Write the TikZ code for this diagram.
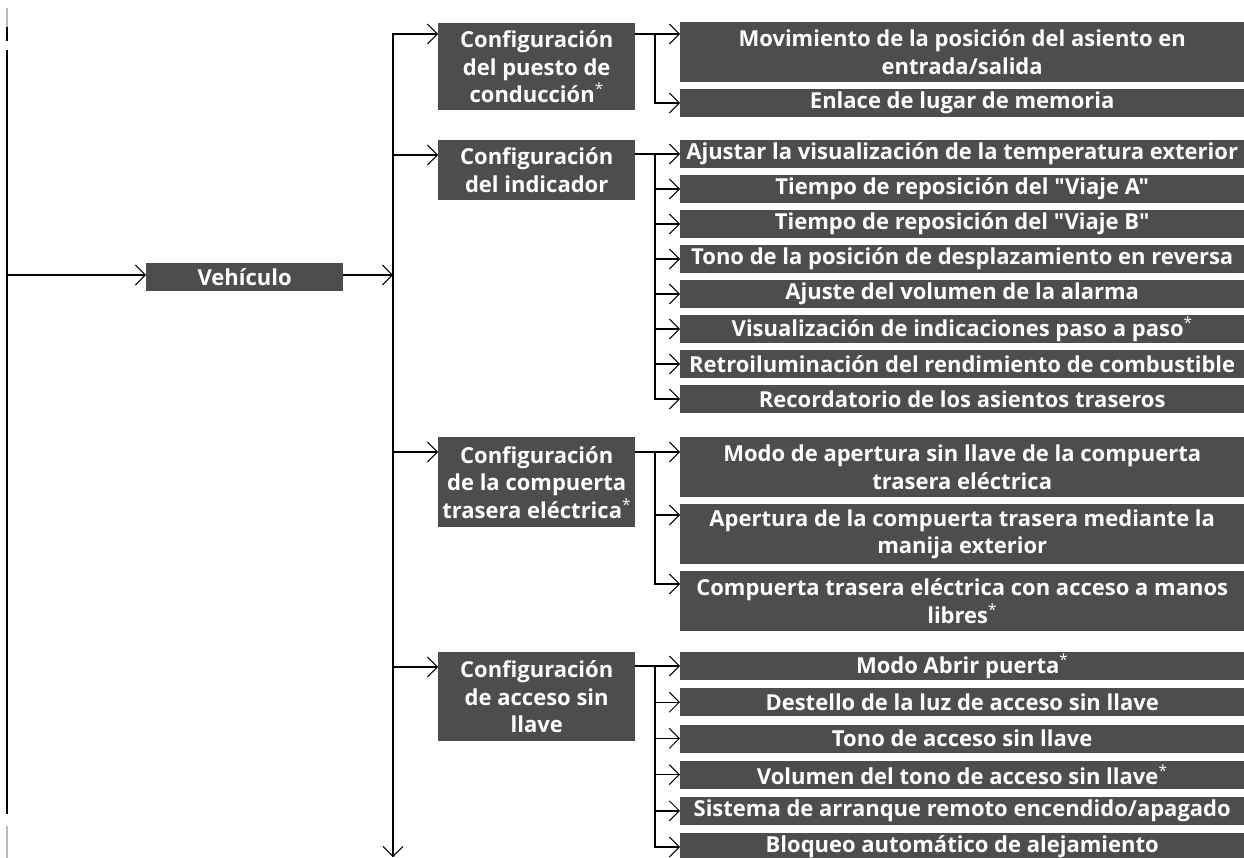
\documentclass[tikz,border=0pt]{standalone}
\usepackage{fontspec}
\setmainfont{Open Sans}[Ligatures=TeXOff]
\usetikzlibrary{arrows.meta}
\definecolor{boxgray}{HTML}{4D4D4D}
\newcommand{\starmk}{\textsuperscript{\mdseries *}}
\tikzset{
  box/.style={fill=boxgray, text=white, font=\bfseries\fontsize{22}{27.5}\selectfont,
    align=center, inner sep=0pt, anchor=north west},
  cfg/.style={box, minimum width=197pt},
  child/.style={box, minimum width=564pt},
  ln/.style={line width=1.4pt, line cap=rect},
  arr/.style={line width=1.4pt, -{Straight Barb[length=10pt,width=20pt,line width=1pt]}},
}
\begin{document}
\begin{tikzpicture}[x=1pt,y=-1pt]
\useasboundingbox (0,0) rectangle (1244,858);
% left border lines
\draw[line width=1.2pt, gray!55] (7,8) -- (7,28);
\draw[ln] (7,28) -- (7,40);
\draw[ln] (7,51) -- (7,813);
\draw[line width=1.2pt, gray!55] (7,826) -- (7,858);
% main nodes
\node[box, minimum width=197pt, minimum height=28pt] (veh) at (146,263) {Vehículo};
\node[cfg, minimum height=87pt] (c1) at (438,23) {Configuración\\del puesto de\\conducción\starmk};
\node[cfg, minimum height=60pt] (c2) at (438,140) {Configuración\\del indicador};
\node[cfg, minimum height=90pt] (c3) at (438,437) {Configuración\\de la compuerta\\trasera eléctrica\starmk};
\node[cfg, minimum height=89pt] (c4) at (438,652) {Configuración\\de acceso sin\\llave};
% left entry
\coordinate (lin) at (7,275);
\draw[arr] (lin) -- (lin -| veh.west);
% trunk
\coordinate (t1) at (393,34);
\coordinate (t2) at (393,155);
\coordinate (t3) at (393,452);
\coordinate (t4) at (393,667);
\coordinate (tv) at (393,275);
\coordinate (tb) at (393,857);
\draw[arr] (veh.east |- tv) -- (tv);
\draw[arr, line cap=rect] (t1) -- (tb);
\foreach \k in {1,2,3,4}{\draw[arr] (t\k) -- (t\k -| c\k.west);}
% group 1
\node[child, minimum height=60pt] (g1-0) at (680,22) {Movimiento de la posición del asiento en\\entrada/salida};
\node[child, minimum height=28pt] (g1-1) at (680,89) {Enlace de lugar de memoria};
\coordinate (a1-0) at (655,34);
\coordinate (a1-1) at (655,103);
\draw[ln] (c1.east |- a1-0) -- (a1-0) -- (a1-1);
\foreach \i in {0,1}{\draw[arr] (a1-\i) -- (a1-\i -| g1-\i.west);}
% group 2
\foreach \i/\t in {0/{Ajustar la visualización de la temperatura exterior},
  1/{Tiempo de reposición del "Viaje A"},
  2/{Tiempo de reposición del "Viaje B"},
  3/{Tono de la posición de desplazamiento en reversa},
  4/{Ajuste del volumen de la alarma},
  5/{Visualización de indicaciones paso a paso\starmk},
  6/{Retroiluminación del rendimiento de combustible},
  7/{Recordatorio de los asientos traseros}}{
  \node[child, minimum height=28pt] (g2-\i) at (680,140+35*\i) {\t};
  \coordinate (a2-\i) at (655,154+35*\i);
  \draw[arr] (a2-\i) -- (a2-\i -| g2-\i.west);
}
\draw[ln] (c2.east |- a2-0) -- (a2-0) -- (a2-7);
% group 3
\node[child, minimum height=60pt] (g3-0) at (680,437) {Modo de apertura sin llave de la compuerta\\trasera eléctrica};
\node[child, minimum height=60pt] (g3-1) at (680,504) {Apertura de la compuerta trasera mediante la\\manija exterior};
\node[child, minimum height=60pt] (g3-2) at (680,571) {Compuerta trasera eléctrica con acceso a manos\\libres\starmk};
\coordinate (a3-0) at (655,452);
\coordinate (a3-1) at (655,515);
\coordinate (a3-2) at (655,584);
\draw[ln] (c3.east |- a3-0) -- (a3-0) -- (a3-2);
\foreach \i in {0,1,2}{\draw[arr] (a3-\i) -- (a3-\i -| g3-\i.west);}
% group 4
\foreach \i/\t in {0/{Modo Abrir puerta\starmk},
  1/{Destello de la luz de acceso sin llave},
  2/{Tono de acceso sin llave},
  3/{Volumen del tono de acceso sin llave\starmk},
  4/{Sistema de arranque remoto encendido/apagado},
  5/{Bloqueo automático de alejamiento}}{
  \node[child, minimum height=28pt] (g4-\i) at (680,652+36.2*\i) {\t};
  \coordinate (a4-\i) at (655,666+36.2*\i);
  \draw[arr] (a4-\i) -- (a4-\i -| g4-\i.west);
}
\draw[ln] (c4.east |- a4-0) -- (a4-0) -- (a4-5);
\end{tikzpicture}
\end{document}
